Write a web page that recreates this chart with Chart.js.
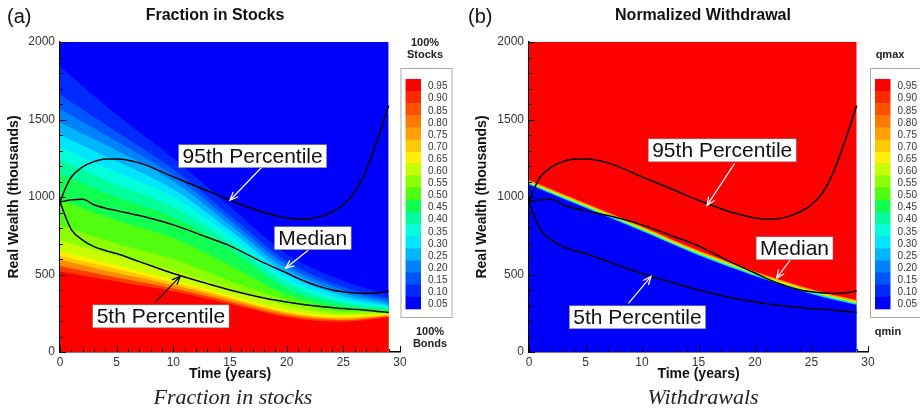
<!DOCTYPE html>
<html>
<head>
<meta charset="utf-8">
<script src="https://cdn.jsdelivr.net/npm/chart.js@4.4.1/dist/chart.umd.min.js"></script>
<style>
  body { margin: 0; background: #fff; width: 920px; height: 412px; overflow: hidden; position: relative; }
  canvas { position: absolute; top: 0; }
  #chartA { left: 0; }
  #chartB { left: 460px; }
</style>
</head>
<body>
<canvas id="chartA" width="460" height="412"></canvas>
<canvas id="chartB" width="460" height="412"></canvas>
<script>
// ---- data (wealth in thousands) ----
const contourYears = [0, 5, 10, 15, 20, 25, 29];

// fraction in stocks: contour levels
const stock10 = [1840, 1530, 1250, 940, 630, 460, 370];
const stock15 = [1660, 1420, 1180, 880, 585, 420, 345];
const stock20 = [1570, 1360, 1140, 850, 560, 400, 330];
const stock25 = [1480, 1300, 1100, 820, 535, 380, 315];
const stock30 = [1400, 1230, 1050, 785, 505, 360, 302];
const stock35 = [1320, 1160, 1000, 750, 475, 340, 290];
const stock40 = [1240, 1080, 935, 705, 445, 320, 281];
const stock45 = [1150, 1000, 870, 660, 410, 300, 272];
const stock50 = [980, 850, 735, 560, 370, 280, 265];
const stock55 = [820, 700, 600, 460, 335, 260, 258];
const stock60 = [720, 620, 525, 410, 300, 245, 250];
const stock65 = [650, 560, 465, 365, 268, 232, 245];
const stock70 = [620, 535, 448, 352, 258, 223, 240];
const stock75 = [595, 510, 432, 340, 250, 215, 235];
const stock85 = [555, 480, 410, 325, 237, 205, 230];
const stock95 = [520, 455, 392, 310, 225, 195, 226];

// normalized withdrawal: contour levels
const wd95 = [1110, 960, 810, 655, 520, 405, 335];
const wd70 = [1100, 950, 800, 645, 510, 395, 325];
const wd45 = [1090, 940, 790, 635, 500, 385, 315];
const wd20 = [1080, 930, 780, 625, 490, 375, 305];

// wealth percentiles
const pctYears = [0, 0.5, 1, 2, 3, 4, 5, 7, 10, 13, 15, 18, 20, 21, 22, 23, 24, 25, 26, 27, 28, 29];
const p95 = [968, 1060, 1129, 1194, 1228, 1245, 1245, 1220, 1130, 1040, 979, 900, 865, 858, 860, 875, 905, 950, 1030, 1170, 1370, 1590];
const p50 = [968, 975, 982, 985, 950, 928, 912, 880, 820, 740, 685, 575, 510, 475, 445, 420, 400, 388, 380, 378, 382, 393];
const p05 = [968, 871, 790, 722, 680, 655, 635, 583, 506, 441, 400, 348, 323, 312, 302, 294, 287, 280, 275, 270, 262, 255];

const xTicks = [0, 5, 10, 15, 20, 25, 30];
const yTicks = [0, 500, 1000, 1500, 2000];
const barLabels = ['0.95', '0.90', '0.85', '0.80', '0.75', '0.70', '0.65', '0.60', '0.55', '0.50',
                   '0.45', '0.40', '0.35', '0.30', '0.25', '0.20', '0.15', '0.10', '0.05'];
const barColors = ['#ff0000', '#ff2800', '#ff5000', '#ff7800', '#ffa000', '#ffc800', '#fff000', '#c8ff00',
                   '#8cff00', '#50ff10', '#10ff50', '#00ff9c', '#00ffdc', '#00e6ff', '#00b4ff',
                   '#0082ff', '#0055ff', '#002aff', '#0000ff'];
const col = lbl => barColors[barLabels.indexOf(lbl)];

const SANS = '"Liberation Sans", Arial, Helvetica, sans-serif';

function pts(xs, ys) { return xs.map((x, i) => ({ x: x, y: ys[i] })); }

function band(values, color) {
  return {
    data: pts(contourYears, values),
    backgroundColor: color, borderWidth: 0, pointRadius: 0,
    fill: 'origin', cubicInterpolationMode: 'monotone'
  };
}
function pctLine(values) {
  return {
    data: pts(pctYears, values),
    borderColor: '#000', borderWidth: 1.5, pointRadius: 0,
    fill: false, cubicInterpolationMode: 'monotone'
  };
}
function flat(color) {
  return { data: pts([0, 29], [2000, 2000]), backgroundColor: color, borderWidth: 0, pointRadius: 0, fill: 'origin' };
}

function arrow(ctx, x1, y1, x2, y2, color) {
  const a = Math.atan2(y2 - y1, x2 - x1), h = 9;
  ctx.strokeStyle = color; ctx.lineWidth = 1.2;
  ctx.beginPath(); ctx.moveTo(x1, y1); ctx.lineTo(x2, y2); ctx.stroke();
  ctx.beginPath();
  ctx.moveTo(x2 - h * Math.cos(a - 0.4), y2 - h * Math.sin(a - 0.4));
  ctx.lineTo(x2, y2);
  ctx.lineTo(x2 - h * Math.cos(a + 0.4), y2 - h * Math.sin(a + 0.4));
  ctx.stroke();
}

function decor(cfg) {
  return {
    id: 'decor',
    afterDatasetsDraw(chart) {
      const { ctx, chartArea: ca, scales: { x, y } } = chart;
      ctx.save();
      // inward ticks
      ctx.strokeStyle = '#000'; ctx.lineWidth = 1;
      for (let t = 0; t <= 30; t++) {
        const px = Math.round(x.getPixelForValue(t)) + 0.5, len = t % 5 === 0 ? 6 : 3;
        ctx.beginPath(); ctx.moveTo(px, ca.bottom); ctx.lineTo(px, ca.bottom - len); ctx.stroke();
      }
      for (let w = 0; w <= 2000; w += 100) {
        const py = Math.round(y.getPixelForValue(w)) + 0.5, len = w % 500 === 0 ? 6 : 3;
        ctx.beginPath(); ctx.moveTo(ca.left, py); ctx.lineTo(ca.left + len, py); ctx.stroke();
      }
      // annotations
      ctx.font = '21px ' + SANS;
      ctx.textAlign = 'center'; ctx.textBaseline = 'middle';
      cfg.notes.forEach(n => {
        arrow(ctx, x.getPixelForValue(n.from[0]), y.getPixelForValue(n.from[1]),
              x.getPixelForValue(n.to[0]), y.getPixelForValue(n.to[1]), n.color);
        const cx = x.getPixelForValue(n.at[0]), cy = y.getPixelForValue(n.at[1]);
        const w = ctx.measureText(n.text).width + 8, h = 23;
        ctx.fillStyle = '#fff'; ctx.fillRect(cx - w / 2, cy - h / 2, w, h);
        ctx.strokeStyle = '#777'; ctx.lineWidth = 0.6; ctx.strokeRect(cx - w / 2, cy - h / 2, w, h);
        ctx.fillStyle = '#111'; ctx.fillText(n.text, cx, cy + 1);
      });
      ctx.restore();
    },
    afterDraw(chart) {
      const ctx = chart.ctx, cb = cfg.bar;
      ctx.save();
      // panel letter, title, caption
      ctx.fillStyle = '#111'; ctx.textBaseline = 'middle';
      ctx.textAlign = 'left'; ctx.font = '20px ' + SANS;
      ctx.fillText(cfg.letter, cfg.letterX, 17);
      ctx.textAlign = 'center'; ctx.font = 'bold 16px ' + SANS;
      ctx.fillText(cfg.title, cfg.titleX, 16);
      ctx.font = 'italic 22px "Liberation Serif", "Times New Roman", serif';
      ctx.fillStyle = '#222';
      ctx.fillText(cfg.caption, cfg.titleX + (cfg.captionShift || 0), 398);
      // colour bar
      ctx.fillStyle = '#fff'; ctx.fillRect(cb.x, 68, cb.w, 250);
      ctx.strokeStyle = '#aaa'; ctx.lineWidth = 1; ctx.strokeRect(cb.x + 0.5, 68.5, cb.w, 249);
      const bh = 230 / barColors.length;
      barColors.forEach((c, i) => {
        ctx.fillStyle = c; ctx.fillRect(cb.x + 5, 79 + i * bh, 15.5, bh + 0.3);
      });
      ctx.strokeStyle = 'rgba(0,0,0,0.12)'; ctx.lineWidth = 0.6;
      for (let i = 1; i < barColors.length; i++) {
        ctx.beginPath(); ctx.moveTo(cb.x + 5, 79 + i * bh); ctx.lineTo(cb.x + 20.5, 79 + i * bh); ctx.stroke();
      }
      ctx.fillStyle = '#333'; ctx.font = '10px ' + SANS; ctx.textAlign = 'left';
      barLabels.forEach((l, i) => ctx.fillText(l, cb.x + 27.5, 79 + (i + 0.5) * bh + 1.5));
      ctx.fillStyle = '#222'; ctx.font = 'bold 11px ' + SANS; ctx.textAlign = 'center';
      cb.top.forEach((s, i) => ctx.fillText(s, cb.topX, (cb.top.length === 1 ? 55 : 43) + i * 12));
      cb.bottom.forEach((s, i) => ctx.fillText(s, cb.bottomX, 332 + i * 11.5));
      ctx.restore();
    }
  };
}

function makeChart(id, datasets, geom, cfg) {
  return new Chart(document.getElementById(id), {
    type: 'line',
    data: { datasets: datasets },
    options: {
      responsive: false, animation: false,
      layout: { padding: { left: 0, top: 42, right: geom.right, bottom: 0 } },
      plugins: { legend: { display: false }, tooltip: { enabled: false }, title: { display: false } },
      scales: {
        x: {
          type: 'linear', min: 0, max: 30,
          afterFit: s => { s.height = 60; },
          afterBuildTicks: s => { s.ticks = xTicks.map(v => ({ value: v })); },
          grid: { display: false, drawTicks: false },
          border: { display: true, color: '#000', width: 1.5 },
          ticks: { color: '#333', font: { family: SANS, size: 12 }, padding: 3, maxRotation: 0, callback: v => String(v) },
          title: { display: true, text: 'Time (years)', color: '#111',
                   font: { family: SANS, size: 14, weight: 'bold' }, padding: { top: 0, bottom: 29.5 } }
        },
        y: {
          type: 'linear', min: 0, max: 2000,
          afterFit: s => { s.width = geom.yWidth; },
          afterBuildTicks: s => { s.ticks = yTicks.map(v => ({ value: v })); },
          grid: { display: false, drawTicks: false },
          border: { display: true, color: '#000', width: 1.5 },
          ticks: { color: '#333', font: { family: SANS, size: 12 }, padding: 5, callback: v => String(v) },
          title: { display: true, text: 'Real Wealth (thousands)', color: '#111',
                   font: { family: SANS, size: 14, weight: 'bold' }, padding: { top: geom.yTitlePad, bottom: 0 } }
        }
      }
    },
    plugins: [decor(cfg)]
  });
}

// ---- panel (a): fraction in stocks ----
makeChart('chartA', [
  pctLine(p95), pctLine(p50), pctLine(p05),
  band(stock95, col('0.95')),
  band(stock85, '#ff3c00'),
  band(stock75, '#ff8c00'),
  band(stock70, col('0.70')),
  band(stock65, col('0.65')),
  band(stock60, col('0.60')),
  band(stock55, col('0.55')),
  band(stock50, col('0.50')),
  band(stock45, col('0.45')),
  band(stock40, col('0.40')),
  band(stock35, col('0.35')),
  band(stock30, col('0.30')),
  band(stock25, col('0.25')),
  band(stock20, col('0.20')),
  band(stock15, col('0.15')),
  band(stock10, col('0.10')),
  flat(col('0.05'))
], { right: 60, yWidth: 60, yTitlePad: 6 }, {
  letter: '(a)', letterX: 7, title: 'Fraction in Stocks', titleX: 215, caption: 'Fraction in stocks', captionShift: 18,
  bar: { x: 400.5, w: 51, top: ['100%', 'Stocks'], topX: 425, bottom: ['100%', 'Bonds'], bottomX: 430 },
  notes: [
    { text: '95th Percentile', at: [17.0, 1263], from: [17.8, 1192], to: [15.0, 979], color: '#fff' },
    { text: 'Median', at: [22.3, 734], from: [21.9, 656], to: [19.9, 540], color: '#fff' },
    { text: '5th Percentile', at: [8.9, 230], from: [8.4, 320], to: [10.6, 488], color: '#000' }
  ]
});

// ---- panel (b): normalized withdrawal ----
makeChart('chartB', [
  pctLine(p95), pctLine(p50), pctLine(p05),
  band(wd20, '#0000ff'),
  band(wd45, '#00e8e0'),
  band(wd70, '#c8ff00'),
  band(wd95, '#ff9a00'),
  flat('#ff0000')
], { right: 52, yWidth: 69, yTitlePad: 14 }, {
  letter: '(b)', letterX: 8, title: 'Normalized Withdrawal', titleX: 243, caption: 'Withdrawals', captionShift: 0,
  bar: { x: 410, w: 52, top: ['qmax'], topX: 430, bottom: ['qmin'], bottomX: 428 },
  notes: [
    { text: '95th Percentile', at: [17.1, 1301], from: [18.2, 1217], to: [15.75, 946], color: '#fff' },
    { text: 'Median', at: [23.5, 669], from: [23.1, 592], to: [21.9, 475], color: '#fff' },
    { text: '5th Percentile', at: [9.6, 224], from: [8.8, 314], to: [10.8, 488], color: '#fff' }
  ]
});
</script>
</body>
</html>
